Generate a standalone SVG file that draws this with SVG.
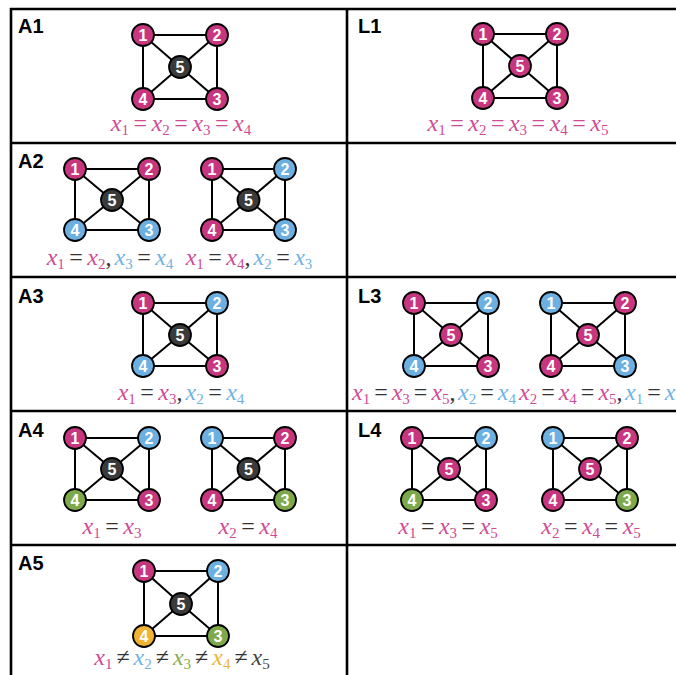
<svg xmlns="http://www.w3.org/2000/svg" width="676" height="675" viewBox="0 0 676 675">
<style>
.bg{fill:#ffffff}
.grid line{stroke:#000;stroke-width:2.6}
.e line{stroke:#000;stroke-width:2}
.n circle{stroke:#000;stroke-width:1.8}
.n text{font-family:"Liberation Sans",Arial,sans-serif;font-weight:bold;font-size:16px;fill:#fff;text-anchor:middle}
.pk{fill:#c8367f}
.bl{fill:#6cb0e2}
.gr{fill:#7ea94b}
.or{fill:#efb330}
.dk{fill:#3b3b3b}
.plab{font-family:"Liberation Sans",Arial,sans-serif;font-weight:bold;font-size:20px;fill:#000}
.m text{font-family:"Liberation Serif","Times New Roman",serif;font-size:24px}
.x{font-style:italic}
.s{font-size:15px}
.tp{fill:#d04a93}
.tb{fill:#6fb2e4}
.tg{fill:#86ad52}
.to{fill:#eeb43a}
.tk{fill:#444}
.td{fill:#333}
</style>
<rect class="bg" x="0" y="0" width="676" height="675"/>
<g class="grid">
<line x1="10" y1="9" x2="676" y2="9"/>
<line x1="10" y1="143" x2="676" y2="143"/>
<line x1="10" y1="277" x2="676" y2="277"/>
<line x1="10" y1="411" x2="676" y2="411"/>
<line x1="10" y1="545" x2="676" y2="545"/>
<line x1="11" y1="8" x2="11" y2="675"/>
<line x1="347" y1="8" x2="347" y2="675"/>
</g>
<g id="panel-labels">
<text class="plab" x="18" y="33">A1</text>
<text class="plab" x="358" y="33">L1</text>
<text class="plab" x="18" y="168">A2</text>
<text class="plab" x="18" y="303">A3</text>
<text class="plab" x="358" y="303">L3</text>
<text class="plab" x="18" y="437">A4</text>
<text class="plab" x="358" y="437">L4</text>
<text class="plab" x="18" y="570">A5</text>
</g>
<g id="connectors" class="e">
<line x1="143" y1="35" x2="217" y2="35"/><line x1="217" y1="35" x2="217" y2="99"/><line x1="217" y1="99" x2="143" y2="99"/><line x1="143" y1="99" x2="143" y2="35"/>
<line x1="143" y1="35" x2="180" y2="67"/><line x1="217" y1="35" x2="180" y2="67"/><line x1="217" y1="99" x2="180" y2="67"/><line x1="143" y1="99" x2="180" y2="67"/>
<line x1="483" y1="34" x2="557" y2="34"/><line x1="557" y1="34" x2="557" y2="98"/><line x1="557" y1="98" x2="483" y2="98"/><line x1="483" y1="98" x2="483" y2="34"/>
<line x1="483" y1="34" x2="520" y2="66"/><line x1="557" y1="34" x2="520" y2="66"/><line x1="557" y1="98" x2="520" y2="66"/><line x1="483" y1="98" x2="520" y2="66"/>
<line x1="75" y1="169" x2="149" y2="169"/><line x1="149" y1="169" x2="149" y2="230"/><line x1="149" y1="230" x2="75" y2="230"/><line x1="75" y1="230" x2="75" y2="169"/>
<line x1="75" y1="169" x2="112" y2="200"/><line x1="149" y1="169" x2="112" y2="200"/><line x1="149" y1="230" x2="112" y2="200"/><line x1="75" y1="230" x2="112" y2="200"/>
<line x1="212" y1="169" x2="285" y2="169"/><line x1="285" y1="169" x2="285" y2="230"/><line x1="285" y1="230" x2="212" y2="230"/><line x1="212" y1="230" x2="212" y2="169"/>
<line x1="212" y1="169" x2="248.5" y2="200"/><line x1="285" y1="169" x2="248.5" y2="200"/><line x1="285" y1="230" x2="248.5" y2="200"/><line x1="212" y1="230" x2="248.5" y2="200"/>
<line x1="143" y1="303" x2="217" y2="303"/><line x1="217" y1="303" x2="217" y2="366"/><line x1="217" y1="366" x2="143" y2="366"/><line x1="143" y1="366" x2="143" y2="303"/>
<line x1="143" y1="303" x2="180" y2="335"/><line x1="217" y1="303" x2="180" y2="335"/><line x1="217" y1="366" x2="180" y2="335"/><line x1="143" y1="366" x2="180" y2="335"/>
<line x1="414" y1="303" x2="488" y2="303"/><line x1="488" y1="303" x2="488" y2="366"/><line x1="488" y1="366" x2="414" y2="366"/><line x1="414" y1="366" x2="414" y2="303"/>
<line x1="414" y1="303" x2="451" y2="335"/><line x1="488" y1="303" x2="451" y2="335"/><line x1="488" y1="366" x2="451" y2="335"/><line x1="414" y1="366" x2="451" y2="335"/>
<line x1="551" y1="303" x2="625" y2="303"/><line x1="625" y1="303" x2="625" y2="366"/><line x1="625" y1="366" x2="551" y2="366"/><line x1="551" y1="366" x2="551" y2="303"/>
<line x1="551" y1="303" x2="588" y2="335"/><line x1="625" y1="303" x2="588" y2="335"/><line x1="625" y1="366" x2="588" y2="335"/><line x1="551" y1="366" x2="588" y2="335"/>
<line x1="75" y1="438" x2="149" y2="438"/><line x1="149" y1="438" x2="149" y2="500"/><line x1="149" y1="500" x2="75" y2="500"/><line x1="75" y1="500" x2="75" y2="438"/>
<line x1="75" y1="438" x2="112" y2="469"/><line x1="149" y1="438" x2="112" y2="469"/><line x1="149" y1="500" x2="112" y2="469"/><line x1="75" y1="500" x2="112" y2="469"/>
<line x1="212" y1="438" x2="285" y2="438"/><line x1="285" y1="438" x2="285" y2="500"/><line x1="285" y1="500" x2="212" y2="500"/><line x1="212" y1="500" x2="212" y2="438"/>
<line x1="212" y1="438" x2="248.5" y2="469"/><line x1="285" y1="438" x2="248.5" y2="469"/><line x1="285" y1="500" x2="248.5" y2="469"/><line x1="212" y1="500" x2="248.5" y2="469"/>
<line x1="412" y1="438" x2="486" y2="438"/><line x1="486" y1="438" x2="486" y2="500"/><line x1="486" y1="500" x2="412" y2="500"/><line x1="412" y1="500" x2="412" y2="438"/>
<line x1="412" y1="438" x2="449" y2="469"/><line x1="486" y1="438" x2="449" y2="469"/><line x1="486" y1="500" x2="449" y2="469"/><line x1="412" y1="500" x2="449" y2="469"/>
<line x1="553" y1="438" x2="627" y2="438"/><line x1="627" y1="438" x2="627" y2="500"/><line x1="627" y1="500" x2="553" y2="500"/><line x1="553" y1="500" x2="553" y2="438"/>
<line x1="553" y1="438" x2="590" y2="469"/><line x1="627" y1="438" x2="590" y2="469"/><line x1="627" y1="500" x2="590" y2="469"/><line x1="553" y1="500" x2="590" y2="469"/>
<line x1="144" y1="571" x2="218" y2="571"/><line x1="218" y1="571" x2="218" y2="636"/><line x1="218" y1="636" x2="144" y2="636"/><line x1="144" y1="636" x2="144" y2="571"/>
<line x1="144" y1="571" x2="181" y2="604"/><line x1="218" y1="571" x2="181" y2="604"/><line x1="218" y1="636" x2="181" y2="604"/><line x1="144" y1="636" x2="181" y2="604"/>
</g>
<g id="A1-n1" class="n"><circle class="pk" cx="143" cy="35" r="11"/><text x="143" y="40.5">1</text></g>
<g id="A1-n2" class="n"><circle class="pk" cx="217" cy="35" r="11"/><text x="217" y="40.5">2</text></g>
<g id="A1-n3" class="n"><circle class="pk" cx="217" cy="99" r="11"/><text x="217" y="104.5">3</text></g>
<g id="A1-n4" class="n"><circle class="pk" cx="143" cy="99" r="11"/><text x="143" y="104.5">4</text></g>
<g id="A1-n5" class="n"><circle class="dk" cx="180" cy="67" r="11"/><text x="180" y="72.5">5</text></g>
<g id="L1-n1" class="n"><circle class="pk" cx="483" cy="34" r="11"/><text x="483" y="39.5">1</text></g>
<g id="L1-n2" class="n"><circle class="pk" cx="557" cy="34" r="11"/><text x="557" y="39.5">2</text></g>
<g id="L1-n3" class="n"><circle class="pk" cx="557" cy="98" r="11"/><text x="557" y="103.5">3</text></g>
<g id="L1-n4" class="n"><circle class="pk" cx="483" cy="98" r="11"/><text x="483" y="103.5">4</text></g>
<g id="L1-n5" class="n"><circle class="pk" cx="520" cy="66" r="11"/><text x="520" y="71.5">5</text></g>
<g id="A2a-n1" class="n"><circle class="pk" cx="75" cy="169" r="11"/><text x="75" y="174.5">1</text></g>
<g id="A2a-n2" class="n"><circle class="pk" cx="149" cy="169" r="11"/><text x="149" y="174.5">2</text></g>
<g id="A2a-n3" class="n"><circle class="bl" cx="149" cy="230" r="11"/><text x="149" y="235.5">3</text></g>
<g id="A2a-n4" class="n"><circle class="bl" cx="75" cy="230" r="11"/><text x="75" y="235.5">4</text></g>
<g id="A2a-n5" class="n"><circle class="dk" cx="112" cy="200" r="11"/><text x="112" y="205.5">5</text></g>
<g id="A2b-n1" class="n"><circle class="pk" cx="212" cy="169" r="11"/><text x="212" y="174.5">1</text></g>
<g id="A2b-n2" class="n"><circle class="bl" cx="285" cy="169" r="11"/><text x="285" y="174.5">2</text></g>
<g id="A2b-n3" class="n"><circle class="bl" cx="285" cy="230" r="11"/><text x="285" y="235.5">3</text></g>
<g id="A2b-n4" class="n"><circle class="pk" cx="212" cy="230" r="11"/><text x="212" y="235.5">4</text></g>
<g id="A2b-n5" class="n"><circle class="dk" cx="248.5" cy="200" r="11"/><text x="248.5" y="205.5">5</text></g>
<g id="A3-n1" class="n"><circle class="pk" cx="143" cy="303" r="11"/><text x="143" y="308.5">1</text></g>
<g id="A3-n2" class="n"><circle class="bl" cx="217" cy="303" r="11"/><text x="217" y="308.5">2</text></g>
<g id="A3-n3" class="n"><circle class="pk" cx="217" cy="366" r="11"/><text x="217" y="371.5">3</text></g>
<g id="A3-n4" class="n"><circle class="bl" cx="143" cy="366" r="11"/><text x="143" y="371.5">4</text></g>
<g id="A3-n5" class="n"><circle class="dk" cx="180" cy="335" r="11"/><text x="180" y="340.5">5</text></g>
<g id="L3a-n1" class="n"><circle class="pk" cx="414" cy="303" r="11"/><text x="414" y="308.5">1</text></g>
<g id="L3a-n2" class="n"><circle class="bl" cx="488" cy="303" r="11"/><text x="488" y="308.5">2</text></g>
<g id="L3a-n3" class="n"><circle class="pk" cx="488" cy="366" r="11"/><text x="488" y="371.5">3</text></g>
<g id="L3a-n4" class="n"><circle class="bl" cx="414" cy="366" r="11"/><text x="414" y="371.5">4</text></g>
<g id="L3a-n5" class="n"><circle class="pk" cx="451" cy="335" r="11"/><text x="451" y="340.5">5</text></g>
<g id="L3b-n1" class="n"><circle class="bl" cx="551" cy="303" r="11"/><text x="551" y="308.5">1</text></g>
<g id="L3b-n2" class="n"><circle class="pk" cx="625" cy="303" r="11"/><text x="625" y="308.5">2</text></g>
<g id="L3b-n3" class="n"><circle class="bl" cx="625" cy="366" r="11"/><text x="625" y="371.5">3</text></g>
<g id="L3b-n4" class="n"><circle class="pk" cx="551" cy="366" r="11"/><text x="551" y="371.5">4</text></g>
<g id="L3b-n5" class="n"><circle class="pk" cx="588" cy="335" r="11"/><text x="588" y="340.5">5</text></g>
<g id="A4a-n1" class="n"><circle class="pk" cx="75" cy="438" r="11"/><text x="75" y="443.5">1</text></g>
<g id="A4a-n2" class="n"><circle class="bl" cx="149" cy="438" r="11"/><text x="149" y="443.5">2</text></g>
<g id="A4a-n3" class="n"><circle class="pk" cx="149" cy="500" r="11"/><text x="149" y="505.5">3</text></g>
<g id="A4a-n4" class="n"><circle class="gr" cx="75" cy="500" r="11"/><text x="75" y="505.5">4</text></g>
<g id="A4a-n5" class="n"><circle class="dk" cx="112" cy="469" r="11"/><text x="112" y="474.5">5</text></g>
<g id="A4b-n1" class="n"><circle class="bl" cx="212" cy="438" r="11"/><text x="212" y="443.5">1</text></g>
<g id="A4b-n2" class="n"><circle class="pk" cx="285" cy="438" r="11"/><text x="285" y="443.5">2</text></g>
<g id="A4b-n3" class="n"><circle class="gr" cx="285" cy="500" r="11"/><text x="285" y="505.5">3</text></g>
<g id="A4b-n4" class="n"><circle class="pk" cx="212" cy="500" r="11"/><text x="212" y="505.5">4</text></g>
<g id="A4b-n5" class="n"><circle class="dk" cx="248.5" cy="469" r="11"/><text x="248.5" y="474.5">5</text></g>
<g id="L4a-n1" class="n"><circle class="pk" cx="412" cy="438" r="11"/><text x="412" y="443.5">1</text></g>
<g id="L4a-n2" class="n"><circle class="bl" cx="486" cy="438" r="11"/><text x="486" y="443.5">2</text></g>
<g id="L4a-n3" class="n"><circle class="pk" cx="486" cy="500" r="11"/><text x="486" y="505.5">3</text></g>
<g id="L4a-n4" class="n"><circle class="gr" cx="412" cy="500" r="11"/><text x="412" y="505.5">4</text></g>
<g id="L4a-n5" class="n"><circle class="pk" cx="449" cy="469" r="11"/><text x="449" y="474.5">5</text></g>
<g id="L4b-n1" class="n"><circle class="bl" cx="553" cy="438" r="11"/><text x="553" y="443.5">1</text></g>
<g id="L4b-n2" class="n"><circle class="pk" cx="627" cy="438" r="11"/><text x="627" y="443.5">2</text></g>
<g id="L4b-n3" class="n"><circle class="gr" cx="627" cy="500" r="11"/><text x="627" y="505.5">3</text></g>
<g id="L4b-n4" class="n"><circle class="pk" cx="553" cy="500" r="11"/><text x="553" y="505.5">4</text></g>
<g id="L4b-n5" class="n"><circle class="pk" cx="590" cy="469" r="11"/><text x="590" y="474.5">5</text></g>
<g id="A5-n1" class="n"><circle class="pk" cx="144" cy="571" r="11"/><text x="144" y="576.5">1</text></g>
<g id="A5-n2" class="n"><circle class="bl" cx="218" cy="571" r="11"/><text x="218" y="576.5">2</text></g>
<g id="A5-n3" class="n"><circle class="gr" cx="218" cy="636" r="11"/><text x="218" y="641.5">3</text></g>
<g id="A5-n4" class="n"><circle class="or" cx="144" cy="636" r="11"/><text x="144" y="641.5">4</text></g>
<g id="A5-n5" class="n"><circle class="dk" cx="181" cy="604" r="11"/><text x="181" y="609.5">5</text></g>
<g id="formulas" class="m">
<text x="181" y="131" text-anchor="middle" class="tp"><tspan class="x">x</tspan><tspan class="s" dy="4">1</tspan><tspan dy="-4" dx="4.5">=</tspan><tspan class="x" dx="4.5">x</tspan><tspan class="s" dy="4">2</tspan><tspan dy="-4" dx="4.5">=</tspan><tspan class="x" dx="4.5">x</tspan><tspan class="s" dy="4">3</tspan><tspan dy="-4" dx="4.5">=</tspan><tspan class="x" dx="4.5">x</tspan><tspan class="s" dy="4">4</tspan></text>
<text x="518" y="131" text-anchor="middle" class="tp"><tspan class="x">x</tspan><tspan class="s" dy="4">1</tspan><tspan dy="-4" dx="4.5">=</tspan><tspan class="x" dx="4.5">x</tspan><tspan class="s" dy="4">2</tspan><tspan dy="-4" dx="4.5">=</tspan><tspan class="x" dx="4.5">x</tspan><tspan class="s" dy="4">3</tspan><tspan dy="-4" dx="4.5">=</tspan><tspan class="x" dx="4.5">x</tspan><tspan class="s" dy="4">4</tspan><tspan dy="-4" dx="4.5">=</tspan><tspan class="x" dx="4.5">x</tspan><tspan class="s" dy="4">5</tspan></text>
<text x="110" y="265" text-anchor="middle" class="td"><tspan class="x tp">x</tspan><tspan class="s tp" dy="4">1</tspan><tspan dy="-4" dx="4.5">=</tspan><tspan class="x tp" dx="4.5">x</tspan><tspan class="s tp" dy="4">2</tspan><tspan dy="-4">,</tspan><tspan class="x tb" dx="3">x</tspan><tspan class="s tb" dy="4">3</tspan><tspan dy="-4" dx="4.5">=</tspan><tspan class="x tb" dx="4.5">x</tspan><tspan class="s tb" dy="4">4</tspan></text>
<text x="249" y="265" text-anchor="middle" class="td"><tspan class="x tp">x</tspan><tspan class="s tp" dy="4">1</tspan><tspan dy="-4" dx="4.5">=</tspan><tspan class="x tp" dx="4.5">x</tspan><tspan class="s tp" dy="4">4</tspan><tspan dy="-4">,</tspan><tspan class="x tb" dx="3">x</tspan><tspan class="s tb" dy="4">2</tspan><tspan dy="-4" dx="4.5">=</tspan><tspan class="x tb" dx="4.5">x</tspan><tspan class="s tb" dy="4">3</tspan></text>
<text x="181" y="400" text-anchor="middle" class="td"><tspan class="x tp">x</tspan><tspan class="s tp" dy="4">1</tspan><tspan dy="-4" dx="4.5">=</tspan><tspan class="x tp" dx="4.5">x</tspan><tspan class="s tp" dy="4">3</tspan><tspan dy="-4">,</tspan><tspan class="x tb" dx="3">x</tspan><tspan class="s tb" dy="4">2</tspan><tspan dy="-4" dx="4.5">=</tspan><tspan class="x tb" dx="4.5">x</tspan><tspan class="s tb" dy="4">4</tspan></text>
<text x="352" y="400" class="td"><tspan class="x tp">x</tspan><tspan class="s tp" dy="4">1</tspan><tspan dy="-4" dx="4">=</tspan><tspan class="x tp" dx="4">x</tspan><tspan class="s tp" dy="4">3</tspan><tspan dy="-4" dx="4">=</tspan><tspan class="x tp" dx="4">x</tspan><tspan class="s tp" dy="4">5</tspan><tspan dy="-4">,</tspan><tspan class="x tb" dx="2.5">x</tspan><tspan class="s tb" dy="4">2</tspan><tspan dy="-4" dx="4">=</tspan><tspan class="x tb" dx="4">x</tspan><tspan class="s tb" dy="4">4</tspan></text>
<text x="519" y="400" class="td"><tspan class="x tp">x</tspan><tspan class="s tp" dy="4">2</tspan><tspan dy="-4" dx="4">=</tspan><tspan class="x tp" dx="4">x</tspan><tspan class="s tp" dy="4">4</tspan><tspan dy="-4" dx="4">=</tspan><tspan class="x tp" dx="4">x</tspan><tspan class="s tp" dy="4">5</tspan><tspan dy="-4">,</tspan><tspan class="x tb" dx="2.5">x</tspan><tspan class="s tb" dy="4">1</tspan><tspan dy="-4" dx="4">=</tspan><tspan class="x tb" dx="4">x</tspan><tspan class="s tb" dy="4">3</tspan></text>
<text x="112" y="534" text-anchor="middle" class="td"><tspan class="x tp">x</tspan><tspan class="s tp" dy="4">1</tspan><tspan dy="-4" dx="4.5">=</tspan><tspan class="x tp" dx="4.5">x</tspan><tspan class="s tp" dy="4">3</tspan></text>
<text x="248" y="534" text-anchor="middle" class="td"><tspan class="x tp">x</tspan><tspan class="s tp" dy="4">2</tspan><tspan dy="-4" dx="4.5">=</tspan><tspan class="x tp" dx="4.5">x</tspan><tspan class="s tp" dy="4">4</tspan></text>
<text x="448" y="534" text-anchor="middle" class="td"><tspan class="x tp">x</tspan><tspan class="s tp" dy="4">1</tspan><tspan dy="-4" dx="4.5">=</tspan><tspan class="x tp" dx="4.5">x</tspan><tspan class="s tp" dy="4">3</tspan><tspan dy="-4" dx="4.5">=</tspan><tspan class="x tp" dx="4.5">x</tspan><tspan class="s tp" dy="4">5</tspan></text>
<text x="591" y="534" text-anchor="middle" class="td"><tspan class="x tp">x</tspan><tspan class="s tp" dy="4">2</tspan><tspan dy="-4" dx="4.5">=</tspan><tspan class="x tp" dx="4.5">x</tspan><tspan class="s tp" dy="4">4</tspan><tspan dy="-4" dx="4.5">=</tspan><tspan class="x tp" dx="4.5">x</tspan><tspan class="s tp" dy="4">5</tspan></text>
<text x="182" y="665" text-anchor="middle" class="td"><tspan class="x tp">x</tspan><tspan class="s tp" dy="4">1</tspan><tspan dy="-4" dx="4">≠</tspan><tspan class="x tb" dx="4">x</tspan><tspan class="s tb" dy="4">2</tspan><tspan dy="-4" dx="4">≠</tspan><tspan class="x tg" dx="4">x</tspan><tspan class="s tg" dy="4">3</tspan><tspan dy="-4" dx="4">≠</tspan><tspan class="x to" dx="4">x</tspan><tspan class="s to" dy="4">4</tspan><tspan dy="-4" dx="4">≠</tspan><tspan class="x tk" dx="4">x</tspan><tspan class="s tk" dy="4">5</tspan></text>
</g>
</svg>
